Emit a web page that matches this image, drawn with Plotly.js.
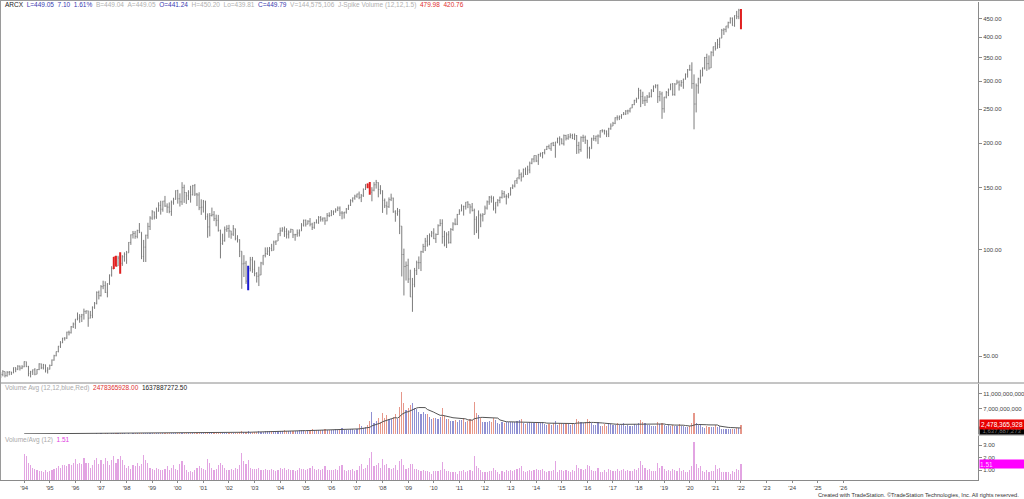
<!DOCTYPE html>
<html><head><meta charset="utf-8">
<script src="https://cdn.plot.ly/plotly-3.0.1.min.js"></script>
<style>html,body{margin:0;padding:0;background:#fff;overflow:hidden}#chart{width:1024px;height:499px}</style>
</head><body><div id="chart"></div>
<script>
// Monthly bars, Jan 1993 .. Jan 2022
const startYear = 1993;
const firstOpen = 43.6;
const closes = [
43.9,44.3,45.2,44.0,45.0,45.1,44.8,46.4,45.9,46.8,46.2,46.6,
48.2,46.7,44.6,45.1,45.7,44.4,45.8,47.5,46.3,47.2,45.4,45.9,
47.0,48.7,50.1,51.5,53.3,54.5,56.2,56.2,58.4,58.2,60.5,61.6,
63.6,64.0,64.6,65.4,66.9,67.1,64.0,65.2,68.7,70.5,75.7,74.1,
78.6,79.1,75.7,80.1,84.8,88.5,95.4,89.9,94.7,91.5,95.5,97.0,
98.0,104.9,110.2,111.2,109.1,113.4,112.1,95.7,101.7,109.9,116.4,122.9,
128.0,123.8,128.6,133.5,130.2,137.3,132.9,132.0,128.3,136.3,138.9,146.9,
139.4,136.6,149.9,145.2,142.1,145.5,143.1,151.8,143.7,142.9,131.5,132.0,
136.6,124.0,116.0,124.9,125.6,122.4,121.1,113.4,104.1,106.0,113.9,114.8,
113.0,110.7,114.7,107.7,106.7,99.0,91.2,91.6,81.5,88.6,93.6,88.0,
85.6,84.1,84.8,91.7,96.4,97.5,99.0,100.8,99.6,105.1,105.8,111.2,
113.1,114.5,112.6,110.7,112.1,114.1,110.2,110.4,111.5,113.0,117.4,121.2,
118.1,120.4,118.1,115.7,119.2,119.1,123.4,122.0,122.9,120.7,124.9,124.8,
128.0,128.1,129.5,131.1,127.0,127.0,127.7,130.4,133.6,137.8,140.1,141.8,
143.8,140.7,142.1,148.2,153.1,150.3,145.5,147.4,152.7,154.9,148.1,146.8,
137.9,133.1,132.3,138.6,140.0,128.0,126.7,128.3,116.6,96.9,89.6,90.3,
82.6,73.5,79.8,87.3,91.9,91.9,98.7,102.1,105.7,103.6,109.6,111.5,
107.4,110.4,116.9,118.7,108.9,103.1,110.2,104.9,114.1,118.3,118.1,125.8,
128.6,132.7,132.6,136.4,134.5,132.1,129.2,121.9,113.1,125.3,124.7,125.8,
131.2,136.6,140.8,139.8,131.0,136.2,137.9,140.7,144.1,141.2,141.6,142.6,
149.8,151.5,156.9,159.8,163.1,160.6,168.6,163.3,168.2,175.7,180.6,184.8,
178.3,185.9,187.2,188.4,192.4,196.0,193.1,200.3,197.2,201.8,206.8,205.9,
199.5,210.5,206.8,208.6,210.7,206.3,210.4,197.2,192.0,207.9,208.0,204.4,
194.0,193.2,206.0,206.5,209.7,209.9,217.4,217.1,216.8,212.6,219.9,223.9,
227.9,236.4,236.3,238.4,241.2,242.3,247.0,247.2,251.9,257.5,264.8,267.4,
282.4,271.4,264.1,264.8,270.5,271.8,281.6,290.2,291.4,271.2,276.0,250.7,
270.4,278.4,283.4,294.6,275.2,294.2,298.0,292.6,297.7,303.8,314.1,323.1,
322.6,295.4,258.5,291.2,304.4,310.0,327.1,350.0,336.3,327.0,362.2,375.6,
371.4,381.1,397.3,418.1,420.4,429.8,439.5,452.3,430.8,460.5,456.7,476.6,
449.05];
const highs = [
44.2,45.0,45.6,45.2,45.3,45.3,45.1,46.4,46.4,47.1,47.0,47.1,
48.3,48.2,46.9,45.4,45.8,46.2,45.9,47.7,47.6,47.5,47.3,46.5,
47.3,48.9,50.4,51.5,53.4,55.1,56.3,56.5,58.6,59.0,60.8,62.2,
63.6,66.4,65.7,65.8,68.1,67.3,67.2,67.1,69.1,71.1,76.2,76.6,
79.4,81.7,81.4,80.4,85.1,89.8,95.4,96.1,96.1,98.3,96.5,98.3,
99.2,105.1,110.5,113.0,113.0,113.9,119.0,112.1,106.6,110.3,119.2,124.4,
129.4,128.2,131.6,136.2,137.6,137.5,142.0,135.3,136.1,137.8,140.3,147.3,
147.8,144.4,155.3,152.8,145.4,147.4,151.7,152.6,153.5,144.8,145.4,138.9,
138.3,137.7,126.7,127.0,131.6,128.6,125.7,125.5,114.0,111.0,116.3,117.3,
117.6,113.1,117.4,114.7,109.9,107.0,99.0,96.5,93.0,90.0,95.4,95.4,
93.2,86.4,89.5,92.4,96.5,101.5,101.6,101.8,103.9,106.1,106.3,111.2,
115.5,115.8,116.3,115.0,113.4,114.7,114.1,110.9,114.1,114.2,118.9,121.7,
121.7,121.2,122.9,119.2,119.9,121.9,124.5,124.5,123.4,123.4,127.0,127.6,
129.5,129.2,131.0,132.6,132.6,128.6,128.0,131.2,134.0,138.9,140.6,143.1,
144.1,146.1,143.8,149.1,153.3,154.0,155.5,150.3,155.4,157.6,155.2,152.3,
147.2,139.6,136.9,140.6,144.1,140.4,129.3,131.3,130.3,116.6,100.7,92.6,
94.3,87.8,83.2,88.8,93.1,95.7,99.3,103.9,108.0,110.1,111.2,113.0,
115.0,111.2,118.0,122.0,121.9,113.1,112.0,112.9,115.1,119.6,122.6,126.3,
130.2,134.4,133.2,136.4,137.1,134.5,135.6,130.7,124.4,129.2,126.6,126.9,
133.3,137.8,141.9,142.3,141.6,136.3,139.1,141.4,147.4,146.7,143.5,144.8,
150.1,153.1,157.0,159.8,168.7,165.4,169.8,170.9,172.9,177.6,181.4,184.9,
185.0,186.8,188.4,189.1,192.5,196.8,198.5,200.5,201.9,201.9,207.5,209.4,
206.4,211.9,211.5,212.6,213.5,212.9,213.3,211.2,202.1,209.4,211.6,210.4,
204.4,195.7,207.6,211.1,210.3,212.0,217.7,219.3,218.7,217.5,221.4,227.8,
230.1,237.1,240.1,239.9,241.8,245.4,248.5,249.1,252.0,258.2,265.7,269.4,
287.3,284.1,280.1,271.8,274.2,279.1,284.8,291.7,294.1,293.9,281.5,280.0,
270.8,281.4,286.0,295.0,296.4,296.4,302.7,301.3,302.2,305.0,315.4,324.7,
333.8,339.3,313.6,295.5,306.9,323.3,328.0,351.4,358.8,354.9,364.5,376.0,
387.1,395.0,398.3,421.8,423.8,430.2,442.2,454.6,454.5,460.8,474.4,480.8,
479.98];
const lows = [
42.9,43.3,43.8,43.5,43.7,44.1,44.2,44.7,45.0,45.6,45.5,45.9,
46.5,46.5,43.8,43.5,44.2,44.1,44.4,45.6,45.9,45.8,44.9,44.6,
45.8,46.9,48.5,49.9,51.2,52.7,54.4,55.3,55.9,57.2,57.9,60.0,
59.7,63.1,62.1,62.4,63.4,65.8,60.5,63.9,64.0,68.0,70.0,72.3,
73.7,77.3,75.4,73.3,79.5,83.9,88.2,89.7,89.9,85.5,90.0,92.5,
91.2,98.0,103.2,107.6,107.4,107.7,111.4,94.0,92.3,92.3,107.4,113.7,
121.5,121.8,122.3,128.2,125.7,128.1,132.2,127.1,126.8,124.7,134.1,138.6,
135.0,132.5,133.9,135.7,134.8,138.2,135.9,142.4,141.9,132.9,129.4,125.5,
127.4,121.5,108.1,109.1,124.2,120.5,116.5,112.5,94.5,103.2,105.4,112.3,
108.1,107.4,109.4,106.3,104.8,95.3,77.5,83.7,80.0,76.8,86.8,86.0,
84.1,80.7,78.9,84.7,90.4,95.1,96.6,96.0,99.0,99.6,103.1,105.8,
109.2,112.4,108.7,107.6,107.6,111.8,107.9,106.0,108.8,109.0,113.0,116.3,
116.3,118.0,116.4,113.7,114.6,118.8,118.4,120.1,120.1,117.6,120.4,123.7,
124.5,125.3,127.3,128.6,124.5,121.9,122.5,126.5,129.6,133.0,136.1,138.5,
140.3,139.0,136.4,141.1,147.6,149.2,143.0,137.1,146.3,148.9,140.7,143.5,
127.1,131.2,125.7,131.3,137.3,127.2,120.0,124.8,110.7,84.0,74.2,81.8,
80.5,73.5,66.7,78.3,84.8,88.1,87.0,97.9,99.1,102.0,102.9,108.5,
107.2,104.5,110.1,116.6,104.0,102.2,101.1,104.0,104.1,113.1,117.3,117.4,
125.7,128.6,124.9,129.9,131.1,126.5,128.3,110.1,111.4,107.4,115.8,120.2,
125.8,129.9,134.0,135.9,129.1,126.7,132.6,135.4,139.6,140.3,134.3,139.8,
142.6,148.5,150.1,153.6,158.2,156.0,160.5,162.8,163.3,164.6,174.6,176.8,
177.0,173.8,183.3,181.4,186.2,191.5,193.1,190.4,196.5,182.1,200.1,197.2,
198.8,197.2,203.9,204.8,206.7,205.7,204.4,186.7,187.2,189.3,201.9,199.3,
181.2,181.0,193.2,203.3,202.5,199.1,207.4,214.7,211.9,208.4,208.4,218.7,
223.9,226.7,232.3,232.8,234.8,240.5,240.7,241.7,244.6,251.6,256.6,260.5,
267.4,253.3,258.5,255.3,260.4,269.1,269.9,279.5,286.4,260.3,263.1,234.7,
244.3,268.1,272.2,283.4,272.9,272.8,294.2,282.2,289.2,285.5,303.1,307.0,
321.4,285.5,219.2,244.7,276.6,295.6,310.0,323.8,320.9,323.4,327.0,353.0,
366.3,371.4,372.3,397.1,405.6,412.7,423.3,436.7,430.6,427.8,449.5,449.5,
420.76];
// monthly volume, billions of shares, Jan 1993 .. Jan 2022
const volumes = [
0.04,0.04,0.04,0.04,0.04,0.04,0.04,0.04,0.04,0.04,0.04,0.04,
0.09,0.08,0.07,0.06,0.05,0.05,0.05,0.04,0.05,0.05,0.05,0.05,
0.05,0.05,0.06,0.06,0.07,0.07,0.08,0.08,0.08,0.09,0.09,0.10,
0.12,0.10,0.11,0.10,0.13,0.11,0.11,0.09,0.10,0.12,0.14,0.11,
0.14,0.12,0.16,0.14,0.12,0.15,0.18,0.14,0.17,0.20,0.17,0.14,
0.13,0.14,0.13,0.16,0.15,0.18,0.16,0.18,0.25,0.23,0.21,0.17,
0.17,0.17,0.19,0.18,0.17,0.17,0.19,0.22,0.18,0.21,0.24,0.20,
0.19,0.28,0.32,0.27,0.20,0.17,0.18,0.17,0.21,0.25,0.27,0.26,
0.25,0.23,0.42,0.36,0.28,0.24,0.26,0.32,0.37,0.33,0.29,0.25,
0.30,0.35,0.30,0.40,0.38,0.50,0.80,0.65,0.60,0.75,0.55,0.50,
0.60,0.62,0.70,0.62,0.65,0.72,0.70,0.70,0.80,0.78,0.72,0.80,
0.95,0.90,1.00,0.85,0.92,0.85,0.88,0.80,0.90,1.05,1.00,1.00,
0.95,1.05,1.15,1.25,1.05,1.00,1.10,1.00,1.10,1.30,1.05,1.05,
1.10,1.10,1.25,1.15,1.45,1.60,1.20,1.10,1.20,1.25,1.35,1.15,
1.40,2.70,2.30,1.60,1.90,2.40,3.50,6.00,3.00,3.50,4.50,3.20,
5.80,4.50,5.20,4.20,4.00,4.60,5.50,4.20,7.50,11.50,8.50,6.50,
7.00,8.00,8.50,7.00,6.80,6.00,5.50,6.00,5.50,5.40,4.60,4.00,
4.50,4.30,4.20,4.60,7.00,5.00,4.00,4.00,3.60,3.70,3.80,3.20,
3.80,3.90,4.30,3.40,3.70,4.20,3.80,8.80,5.80,5.20,4.40,3.40,
3.40,3.30,3.50,3.40,4.30,3.80,3.00,2.70,3.20,2.90,3.40,3.20,
3.30,3.20,3.30,3.50,3.80,4.00,2.90,2.70,3.00,3.20,2.90,3.00,
3.30,3.10,3.10,3.30,2.70,2.50,2.70,2.60,2.90,3.70,2.50,3.00,
3.10,2.80,3.00,2.70,2.50,2.90,2.70,4.00,3.50,3.20,2.90,3.20,
4.00,3.60,2.90,2.60,2.50,3.30,2.30,2.30,2.70,2.30,3.10,2.80,
2.60,2.50,2.90,2.40,2.60,2.90,2.30,2.50,2.30,2.30,2.80,2.50,
2.90,3.80,3.30,2.90,2.40,2.60,2.10,2.10,2.10,3.20,2.80,3.00,
2.60,2.10,2.40,2.10,2.50,2.30,2.10,2.70,2.10,2.20,1.80,1.80,
2.20,2.90,5.80,3.00,2.40,2.60,1.90,1.70,2.10,1.80,1.90,1.90,
2.60,2.00,2.10,1.50,1.40,1.40,1.40,1.25,1.50,1.35,1.75,1.60,
2.478365928];
// Volume / Avg(12), Jan 1994 .. Jan 2022
const ratioStartYear = 1994;
const ratios = [
2.3,2.1,1.6,1.4,1.2,1.1,1.0,0.9,0.9,0.8,1.0,0.8,
0.9,1.0,1.1,1.2,1.3,1.2,1.4,1.4,1.3,1.5,1.4,1.6,
1.9,1.5,1.6,1.5,2.0,1.6,1.6,1.2,1.4,1.8,2.0,1.5,
1.8,1.5,2.0,1.7,1.4,1.8,2.1,1.6,1.9,2.1,1.8,1.4,
1.2,1.3,1.1,1.4,1.3,1.6,1.3,1.5,2.2,1.8,1.6,1.2,
1.1,1.0,1.2,1.1,1.0,1.0,1.1,1.3,1.0,1.2,1.4,1.1,
1.0,1.5,1.7,1.4,1.0,0.8,0.9,0.8,1.0,1.2,1.3,1.2,
1.1,1.0,1.9,1.6,1.2,1.0,1.1,1.4,1.6,1.4,1.2,1.0,
1.0,1.1,1.0,1.2,1.1,1.4,2.4,1.7,1.5,1.8,1.2,1.1,
1.1,1.1,1.2,1.0,1.0,1.1,1.0,1.0,1.1,1.0,0.9,1.0,
1.2,1.1,1.2,1.0,1.1,1.0,1.0,0.9,1.0,1.2,1.1,1.1,
1.0,1.1,1.2,1.3,1.1,1.0,1.1,1.0,1.1,1.3,1.0,1.0,
1.0,1.0,1.1,1.0,1.3,1.4,1.0,0.9,1.0,1.0,1.1,0.9,
1.0,1.3,1.5,1.1,1.2,1.4,2.0,2.5,1.3,1.4,1.6,1.2,
1.9,1.4,1.5,1.2,1.1,1.2,1.4,1.0,1.7,1.9,1.4,1.1,
1.2,1.5,1.5,1.1,1.1,1.0,0.9,1.0,0.9,0.9,0.8,0.7,
0.9,0.9,0.9,1.0,1.65,1.1,0.9,0.9,0.8,0.8,0.8,0.7,
0.9,0.9,1.0,0.8,0.9,1.0,0.9,2.1,1.3,1.2,1.0,0.8,
0.8,0.8,0.9,0.9,1.2,1.0,0.8,0.7,0.9,0.8,1.0,0.9,
1.0,0.9,1.0,1.1,1.2,1.3,0.9,0.8,0.9,1.0,0.9,1.0,
1.1,1.0,1.0,1.1,0.9,0.8,0.9,0.9,1.0,1.7,0.8,1.0,
1.0,0.9,1.0,0.9,0.8,1.0,0.9,1.4,1.2,1.1,1.0,1.1,
1.4,1.3,1.0,0.9,0.9,1.2,0.8,0.8,1.0,0.8,1.1,1.0,
0.9,0.9,1.1,0.9,1.0,1.1,0.9,1.0,0.9,0.9,1.1,1.0,
1.2,1.7,1.4,1.2,1.0,1.1,0.9,0.9,0.9,1.55,1.2,1.3,
1.1,0.9,1.0,0.9,1.1,1.0,0.9,1.2,0.9,1.0,0.8,0.8,
1.0,1.3,3.3,1.5,1.2,1.3,0.9,0.8,1.0,0.8,0.9,0.9,
1.4,1.1,1.2,0.8,0.8,0.8,0.8,0.7,0.9,0.8,1.1,1.0,
1.51];
const redBars = ['1997-07','1997-08','1997-10','2007-06','2007-07','2022-01'];
const blueBars = ['2002-10'];
const yearTicks = [1994,1995,1996,1997,1998,1999,2000,2001,2002,2003,2004,2005,2006,2007,2008,2009,2010,2011,2012,2013,2014,2015,2016,2017,2018,2019,2020,2021,2022,2023,2024,2025,2026];
const priceTicks = [50,100,150,200,250,300,350,400,450];
const volTicks = [7e9, 11e9];
const ratioTicks = [1,2,3];

const FONT = 'Arial, "Liberation Sans", sans-serif';
const N = closes.length;
const xs = [], keys = [], opens = [];
for (let i = 0; i < N; i++) {
  const yr = startYear + Math.floor(i / 12), m = i % 12;
  xs.push(yr + m / 12);
  keys.push(yr + '-' + String(m + 1).padStart(2, '0'));
  opens.push(i === 0 ? firstOpen : closes[i - 1]);
}
function pick(fn) {
  const o = {x: [], open: [], high: [], low: [], close: []};
  for (let i = 0; i < N; i++) if (fn(keys[i])) {
    o.x.push(xs[i]); o.open.push(opens[i]); o.high.push(highs[i]); o.low.push(lows[i]); o.close.push(closes[i]);
  }
  return o;
}
function ohlc(d, color, w) {
  return Object.assign({type: 'ohlc', xaxis: 'x', yaxis: 'y', tickwidth: 0.3, hoverinfo: 'skip',
    increasing: {line: {color: color, width: w}}, decreasing: {line: {color: color, width: w}}}, d);
}
const gray = pick(k => !redBars.includes(k) && !blueBars.includes(k));
const red = pick(k => redBars.includes(k));
const blue = pick(k => blueBars.includes(k));

// volume panel (from 1994)
const vStart = (ratioStartYear - startYear) * 12;
const vx = [], vy = [], vc = [], ax = [], ay = [];
for (let i = vStart; i < N; i++) {
  vx.push(xs[i]); vy.push(volumes[i] * 1e9);
  vc.push(closes[i] >= opens[i] ? '#9090d2' : '#e6978a');
  let s = 0; for (let j = i - 11; j <= i; j++) s += volumes[j];
  ax.push(xs[i]); ay.push(s / 12 * 1e9);
}
const rx = ratios.map((r, i) => ratioStartYear + Math.floor(i / 12) + (i % 12) / 12);

const traces = [
  ohlc(gray, '#7c7c7c', 1),
  ohlc(red, '#e02020', 2),
  ohlc(blue, '#1a1ad0', 2),
  {type: 'bar', x: vx, y: vy, xaxis: 'x', yaxis: 'y2', width: 0.045, marker: {color: vc, line: {width: 0}}, hoverinfo: 'skip'},
  {type: 'scatter', mode: 'lines', x: ax, y: ay, xaxis: 'x', yaxis: 'y2', line: {color: '#555', width: 1}, hoverinfo: 'skip'},
  {type: 'bar', x: rx, y: ratios, xaxis: 'x', yaxis: 'y3', width: 0.045, marker: {color: '#e2a4e2', line: {width: 0}}, hoverinfo: 'skip'}
];

const axisCommon = {showgrid: false, zeroline: false, showline: true, linecolor: '#8a8a8a', linewidth: 1,
  ticks: 'outside', ticklen: 3, tickcolor: '#8a8a8a', tickfont: {family: FONT, size: 6, color: '#444'}, fixedrange: true};

const P = y => (480 - y) / 478;   // pixel row -> paper fraction
const X = x => x / 978;           // pixel column -> paper fraction

const layout = {
  width: 1024, height: 499,
  margin: {l: 0, r: 46, t: 2, b: 19, pad: 0},
  paper_bgcolor: '#fff', plot_bgcolor: '#fff',
  showlegend: false, hovermode: false, bargap: 0,
  font: {family: FONT, size: 6, color: '#444'},
  xaxis: Object.assign({}, axisCommon, {domain: [0, 1], anchor: 'y3', range: [1993.055, 2031.26], ticklen: 2,
    tickvals: yearTicks, ticktext: yearTicks.map(y => "'" + String(y).slice(2)),
    rangeslider: {visible: false}}),
  yaxis: Object.assign({}, axisCommon, {domain: [P(383), 1], anchor: 'x', side: 'right', type: 'log',
    range: [1.6226, 2.7013], tickvals: priceTicks, ticktext: priceTicks.map(v => v.toFixed(2))}),
  yaxis2: Object.assign({}, axisCommon, {domain: [P(434), P(384)], anchor: 'x', side: 'right',
    range: [0, 13.7e9], tickvals: volTicks, ticktext: volTicks.map(v => v.toLocaleString('en-US'))}),
  yaxis3: Object.assign({}, axisCommon, {domain: [0, P(436)], anchor: 'x', side: 'right',
    range: [0.19, 3.76], tickvals: ratioTicks, ticktext: ratioTicks.map(v => v.toFixed(2))}),
  shapes: [
    {type: 'line', xref: 'paper', yref: 'paper', x0: 0, x1: X(1024), y0: P(383), y1: P(383), line: {color: '#8a8a8a', width: 1}},
    {type: 'line', xref: 'paper', yref: 'paper', x0: 1, x1: X(1024), y0: P(435), y1: P(435), line: {color: '#8a8a8a', width: 1}},
    {type: 'line', xref: 'paper', yref: 'paper', x0: 0, x1: X(1024), y0: P(0.5), y1: P(0.5), line: {color: '#9a9a9a', width: 1}},
    {type: 'line', xref: 'paper', yref: 'paper', x0: X(0.5), x1: X(0.5), y0: 0, y1: P(0.5), line: {color: '#9a9a9a', width: 1}}
  ],
  annotations: [
    {xref: 'paper', yref: 'paper', x: X(3), y: P(5), xanchor: 'left', yanchor: 'middle', showarrow: false,
     font: {family: FONT, size: 6.5, color: '#222'},
     text: 'ARCX&nbsp;&nbsp;<span style="color:#3a3ab0">L=449.05&nbsp;&nbsp;7.10&nbsp;&nbsp;1.61%</span>&nbsp;&nbsp;<span style="color:#b0b0b0">B=449.04&nbsp;&nbsp;A=449.05</span>&nbsp;&nbsp;<span style="color:#3a3ab0">O=441.24</span>&nbsp;&nbsp;<span style="color:#b0b0b0">H=450.20&nbsp;&nbsp;Lo=439.81</span>&nbsp;&nbsp;<span style="color:#3a3ab0">C=449.79</span>&nbsp;&nbsp;<span style="color:#b0b0b0">V=144,575,106&nbsp;&nbsp;J-Spike Volume (12,12,1.5)</span>&nbsp;&nbsp;<span style="color:#e03030">479.98&nbsp;&nbsp;420.76</span>'},
    {xref: 'paper', yref: 'paper', x: X(3), y: P(388), xanchor: 'left', yanchor: 'middle', showarrow: false,
     font: {family: FONT, size: 6.5, color: '#aaa'},
     text: 'Volume Avg (12,12,blue,Red)&nbsp;&nbsp;<span style="color:#e03030">2478365928.00</span>&nbsp;&nbsp;<span style="color:#222">1637887272.50</span>'},
    {xref: 'paper', yref: 'paper', x: X(3), y: P(440), xanchor: 'left', yanchor: 'middle', showarrow: false,
     font: {family: FONT, size: 6.5, color: '#aaa'},
     text: 'Volume/Avg (12)&nbsp;&nbsp;<span style="color:#e040e0">1.51</span>'},
    {xref: 'paper', yref: 'y2', x: 1, y: 1637887272.5, xanchor: 'left', yanchor: 'middle', showarrow: false, xshift: 1, yshift: -2,
     bgcolor: '#000', width: 44, height: 7, borderpad: 0, font: {family: FONT, size: 6, color: '#777'}, text: '1,637,887,273'},
    {xref: 'paper', yref: 'y2', x: 1, y: 2478365928, xanchor: 'left', yanchor: 'middle', showarrow: false, xshift: 1,
     bgcolor: '#e80000', width: 44, height: 9, borderpad: 0, font: {family: FONT, size: 6.5, color: '#fff'}, text: '2,478,365,928'},
    {xref: 'paper', yref: 'y3', x: 1, y: 1.51, xanchor: 'left', yanchor: 'middle', showarrow: false, xshift: 1,
     bgcolor: '#ff00ff', width: 45, height: 8, borderpad: 0, align: 'left', font: {family: FONT, size: 6.5, color: '#ffd0ff'}, text: '1.51'},
    {xref: 'paper', yref: 'paper', x: X(1021), y: P(495), xanchor: 'right', yanchor: 'middle', showarrow: false,
     font: {family: FONT, size: 5.7, color: '#333'},
     text: 'Created with TradeStation. ©TradeStation Technologies, Inc. All rights reserved.'}
  ]
};

Plotly.newPlot('chart', traces, layout, {staticPlot: true, displayModeBar: false});
</script>
</body></html>
